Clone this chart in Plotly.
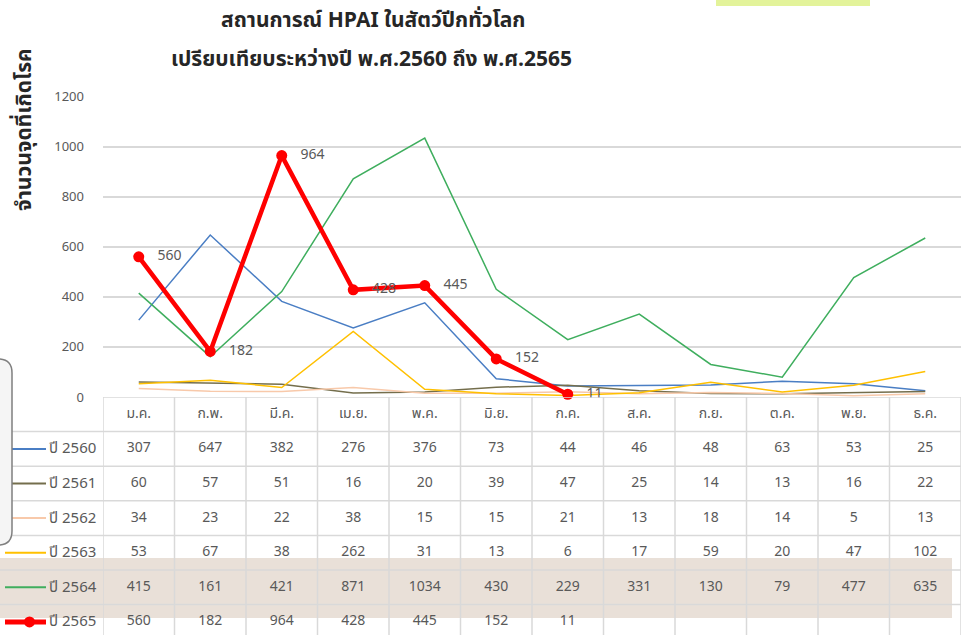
import plotly.graph_objects as go

# ---------------- data ----------------
months = ['ม.ค.', 'ก.พ.', 'มี.ค.', 'เม.ย.', 'พ.ค.', 'มิ.ย.', 'ก.ค.', 'ส.ค.', 'ก.ย.', 'ต.ค.', 'พ.ย.', 'ธ.ค.']
series_names = ['ปี 2560', 'ปี 2561', 'ปี 2562', 'ปี 2563', 'ปี 2564', 'ปี 2565']
y2560 = [307, 647, 382, 276, 376, 73, 44, 46, 48, 63, 53, 25]
y2561 = [60, 57, 51, 16, 20, 39, 47, 25, 14, 13, 16, 22]
y2562 = [34, 23, 22, 38, 15, 15, 21, 13, 18, 14, 5, 13]
y2563 = [53, 67, 38, 262, 31, 13, 6, 17, 59, 20, 47, 102]
y2564 = [415, 161, 421, 871, 1034, 430, 229, 331, 130, 79, 477, 635]
y2565 = [560, 182, 964, 428, 445, 152, 11]
title_line1 = 'สถานการณ์ HPAI ในสัตว์ปีกทั่วโลก'
title_line2 = 'เปรียบเทียบระหว่างปี พ.ศ.2560 ถึง พ.ศ.2565'
y_title = 'จำนวนจุดที่เกิดโรค'
y_ticks = [0, 200, 400, 600, 800, 1000, 1200]

all_series = [y2560, y2561, y2562, y2563, y2564, y2565]
colors = ['#4a7ec4', '#746e4c', '#f8c9aa', '#ffc000', '#3fae5e', '#ff0000']
widths = [1.5, 1.5, 1.5, 1.5, 1.5, 4.5]

# ---------------- geometry (pixels) ----------------
W, H = 961, 635
x_left = 103
y_top_px = 96.5
y_zero_px = 397
row_h = 34.6

def py(px):
    return (H - px) / H

FONT = "'Noto Sans Thai', Tahoma, 'DejaVu Sans', sans-serif"
GRAY = '#595959'
GRID = '#d9d9d9'

fig = go.Figure()

# chart lines
for i, (name, vals) in enumerate(zip(series_names, all_series)):
    if i == 5:
        fig.add_trace(go.Scatter(
            x=months[:len(vals)], y=vals, mode='lines+markers+text',
            line=dict(color=colors[i], width=widths[i]),
            marker=dict(size=11, color=colors[i]),
            text=[f'\u00a0\u00a0\u00a0{v}' for v in vals], textposition='middle right',
            textfont=dict(size=14, color=GRAY, family=FONT),
            showlegend=False, cliponaxis=False))
    else:
        fig.add_trace(go.Scatter(
            x=months, y=vals, mode='lines',
            line=dict(color=colors[i], width=widths[i]),
            showlegend=False))

# table texts (header + cells) on table axis y2
n_rows_visible = (H - y_zero_px) / row_h
fig.add_trace(go.Scatter(
    x=months, y=[0.5] * 12, mode='text', text=months,
    textfont=dict(size=14, color=GRAY, family=FONT),
    xaxis='x', yaxis='y2', showlegend=False, cliponaxis=False))
for r, vals in enumerate(all_series):
    fig.add_trace(go.Scatter(
        x=months[:len(vals)], y=[r + 1.5] * len(vals), mode='text',
        text=[str(v) for v in vals],
        textfont=dict(size=14, color=GRAY, family=FONT),
        xaxis='x', yaxis='y2', showlegend=False, cliponaxis=False))

shapes = []
# highlight band behind row 2564 (soft edges)
for pad, op in [(5, 0.35), (3, 0.5), (0, 1.0)]:
    shapes.append(dict(type='rect', xref='paper', yref='paper',
                       x0=(0 + pad) / W, x1=(952 - pad) / W,
                       y0=py(618 - pad), y1=py(558 + pad),
                       fillcolor='#e9e0d8', opacity=op, line=dict(width=0), layer='below'))
# horizontal table lines
shapes.append(dict(type='line', xref='x', yref='y2', x0=-0.5, x1=11.5, y0=0, y1=0,
                   line=dict(color=GRID, width=1.5)))
for r in range(1, 7):
    shapes.append(dict(type='line', xref='paper', yref='y2', x0=0, x1=1, y0=r, y1=r,
                       line=dict(color=GRID, width=1.5)))
# vertical table lines
for c in range(13):
    shapes.append(dict(type='line', xref='x', yref='y2', x0=c - 0.5, x1=c - 0.5,
                       y0=0, y1=n_rows_visible, line=dict(color=GRID, width=1.5)))
# legend keys
for r in range(6):
    yc = r + 1.5
    shapes.append(dict(type='line', xref='paper', yref='y2', x0=5 / W, x1=46 / W,
                       y0=yc, y1=yc, line=dict(color=colors[r], width=2 if r < 5 else 5)))
shapes.append(dict(type='circle', xref='paper', yref='y2', x0=24 / W, x1=35 / W,
                   y0=6.5 - 5.5 / row_h, y1=6.5 + 5.5 / row_h,
                   fillcolor=colors[5], line=dict(width=0)))
# rounded box on left edge
r_ = 14
x0b, x1b, y0b, y1b = -30, 12, 359, 545
path = (f'M {x0b/W},{py(y0b)} L {(x1b-r_)/W},{py(y0b)} '
        f'Q {x1b/W},{py(y0b)} {x1b/W},{py(y0b+r_)} '
        f'L {x1b/W},{py(y1b-r_)} Q {x1b/W},{py(y1b)} {(x1b-r_)/W},{py(y1b)} '
        f'L {x0b/W},{py(y1b)} Z')
shapes.append(dict(type='path', xref='paper', yref='paper', path=path,
                   fillcolor='#f5f5f5', line=dict(color='#7f7f7f', width=1.5)))
# light green box at top
shapes.append(dict(type='rect', xref='paper', yref='paper', x0=716 / W, x1=870 / W,
                   y0=py(6), y1=1.01, fillcolor='#e3f39a', line=dict(width=0)))

annotations = [
    dict(text=f'<b>{title_line1}</b>', xref='paper', yref='paper', x=373 / W, y=py(21),
         showarrow=False, font=dict(size=21, color='#262626', family=FONT),
         xanchor='center', yanchor='middle'),
    dict(text=f'<b>{title_line2}</b>', xref='paper', yref='paper', x=371 / W, y=py(59),
         showarrow=False, font=dict(size=21, color='#262626', family=FONT),
         xanchor='center', yanchor='middle'),
    dict(text=f'<b>{y_title}</b>', xref='paper', yref='paper', x=25 / W, y=py(130),
         showarrow=False, textangle=-90, font=dict(size=21, color='#262626', family=FONT),
         xanchor='center', yanchor='middle'),
]
for r, name in enumerate(series_names):
    annotations.append(dict(text=name, xref='paper', yref='y2', x=47 / W, y=r + 1.5,
                            showarrow=False, xanchor='left', yanchor='middle',
                            font=dict(size=15, color=GRAY, family=FONT)))

fig.update_layout(
    width=W, height=H,
    margin=dict(l=0, r=0, t=0, b=0),
    paper_bgcolor='white', plot_bgcolor='rgba(0,0,0,0)',
    showlegend=False,
    xaxis=dict(domain=[x_left / W, 1], type='category', categoryorder='array',
               categoryarray=months, range=[-0.5, 11.5], showgrid=False,
               showticklabels=False, zeroline=False, showline=False, ticks=''),
    yaxis=dict(domain=[py(y_zero_px), py(y_top_px)], range=[0, 1200],
               tickvals=y_ticks, showgrid=True, gridcolor=GRID, gridwidth=1.5,
               zeroline=False, showline=False, ticks='', ticklabelstandoff=18,
               tickfont=dict(size=13, color=GRAY, family=FONT), automargin=False),
    yaxis2=dict(domain=[0, py(y_zero_px)], range=[n_rows_visible, 0],
                showgrid=False, showticklabels=False, zeroline=False, showline=False,
                anchor='x'),
    shapes=shapes, annotations=annotations,
)

fig.write_html('out.html', config={'displayModeBar': False},
               post_script="document.body.style.margin='0';document.body.style.overflow='hidden';")
